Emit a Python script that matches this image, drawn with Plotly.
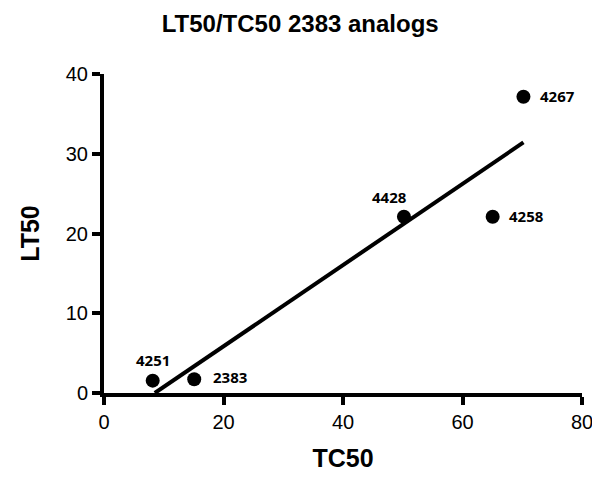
import numpy as np
import plotly.graph_objects as go

# Data
compounds = ["4251", "2383", "4428", "4258", "4267"]
tc50 = [8.15, 15.1, 50.2, 65.05, 70.2]
lt50 = [1.55, 1.72, 22.1, 22.1, 37.15]

x_ticks = [0, 20, 40, 60, 80]
y_ticks = [0, 10, 20, 30, 40]

# label placement (style only)
label_pos = {"4251": (0, 21), "2383": (36, 2), "4428": (-14, 20), "4258": (34, 1), "4267": (34, 1)}

# linear regression line through the data
slope, intercept = np.polyfit(tc50, lt50, 1)
x_fit = np.array([min(tc50), max(tc50)])
x_fit[0] = max(x_fit[0], -intercept / slope)
y_fit = slope * x_fit + intercept

fig = go.Figure()
fig.add_trace(go.Scatter(x=x_fit, y=y_fit, mode="lines",
                         line=dict(color="black", width=4), hoverinfo="skip",
                         showlegend=False, cliponaxis=False))
fig.add_trace(go.Scatter(x=tc50, y=lt50, mode="markers",
                         marker=dict(color="black", size=14),
                         showlegend=False, cliponaxis=False))

for name, x, y in zip(compounds, tc50, lt50):
    dx, dy = label_pos[name]
    fig.add_annotation(x=x, y=y, text="<b>" + name + "</b>", showarrow=False,
                       xshift=dx, yshift=dy,
                       font=dict(family="Open Sans, Arial", size=15, color="black"))

axis_common = dict(showline=True, linecolor="black", linewidth=4,
                   ticks="outside", ticklen=8, tickwidth=3.5, tickcolor="black",
                   showgrid=False, zeroline=False, mirror=False,
                   tickfont=dict(family="Liberation Sans, Arial", size=20, color="black"))

# page body adds an 8px offset, margins compensate for it
fig.update_layout(
    width=600, height=477,
    paper_bgcolor="white", plot_bgcolor="white",
    margin=dict(l=96, r=26, t=66, b=92),
    title=dict(text="<b>LT50/TC50 2383 analogs</b>", x=0.487, xanchor="center",
               y=0.968, yanchor="middle",
               font=dict(family="Liberation Sans, Arial", size=24, color="black")),
    xaxis=dict(range=[0, 80], tickvals=x_ticks, **axis_common,
               title=dict(text="<b>TC50</b>", standoff=18,
                          font=dict(family="Liberation Sans, Arial", size=25, color="black"))),
    yaxis=dict(range=[0, 40], tickvals=y_ticks, **axis_common,
               title=dict(text="<b>LT50</b>", standoff=20,
                          font=dict(family="Liberation Sans, Arial", size=25, color="black"))),
)

fig.write_html("out.html")
